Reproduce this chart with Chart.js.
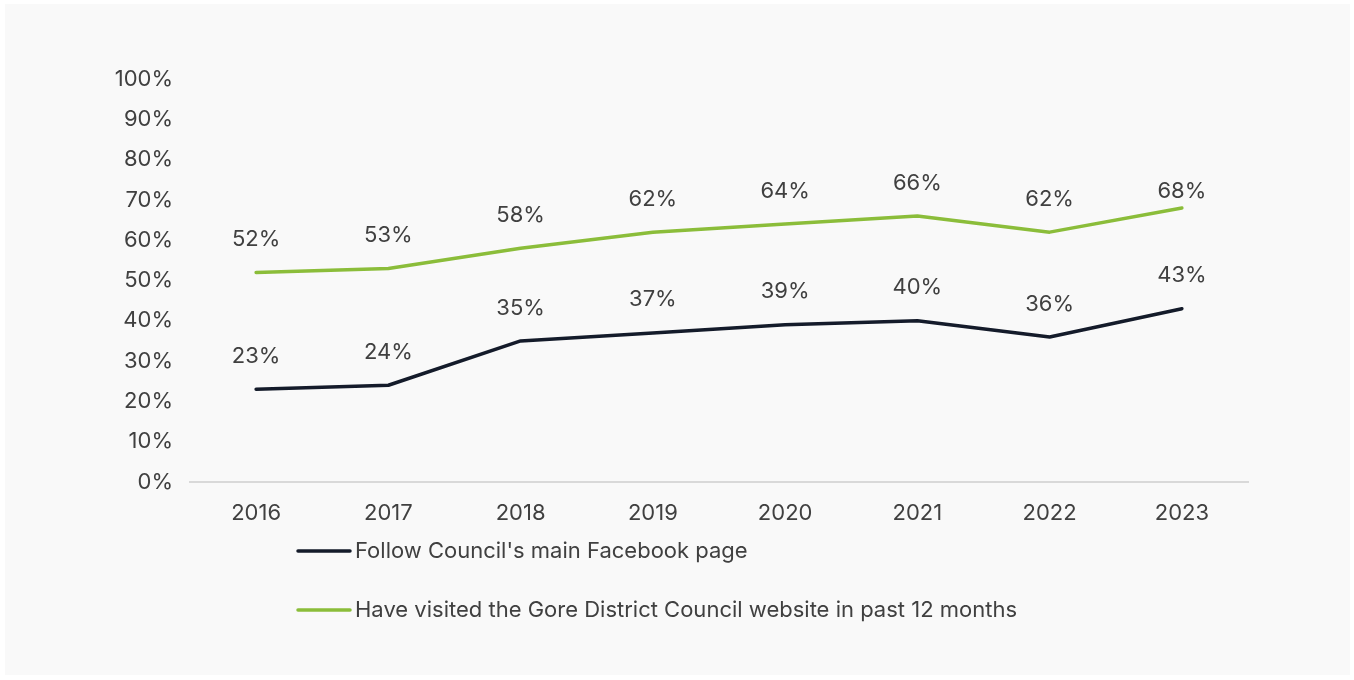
<!DOCTYPE html>
<html>
<head>
<meta charset="utf-8">
<script src="https://cdn.jsdelivr.net/npm/chart.js@4/dist/chart.umd.min.js"></script>
<style>
  html, body { margin: 0; padding: 0; background: #ffffff; }
  #wrap { position: relative; width: 1354px; height: 680px; }
</style>
</head>
<body>
<div id="wrap"><canvas id="c" width="1354" height="680"></canvas></div>
<script>
const years = ['2016', '2017', '2018', '2019', '2020', '2021', '2022', '2023'];
const facebookFollow = [23, 24, 35, 37, 39, 40, 36, 43];
const websiteVisited = [52, 53, 58, 62, 64, 66, 62, 68];
const seriesNames = [
  "Follow Council's main Facebook page",
  'Have visited the Gore District Council website in past 12 months'
];
const seriesColors = ['#141b2a', '#8bbd3a'];

const FONT = 'Inter, "Noto Sans", sans-serif';
const FONT_SIZE = 22;
const TEXT = '#404040';

// Light panel behind the whole chart
const panel = {
  id: 'panel',
  beforeDraw(chart) {
    const ctx = chart.ctx;
    ctx.save();
    ctx.fillStyle = '#f9f9f9';
    ctx.fillRect(5, 4, 1345, 671);
    ctx.restore();
  }
};

// Percent labels above every point; the last website label sits a little lower
const pointLabels = {
  id: 'pointLabels',
  afterDatasetsDraw(chart) {
    const ctx = chart.ctx;
    ctx.save();
    ctx.font = FONT_SIZE + 'px ' + FONT;
    ctx.fillStyle = TEXT;
    ctx.textAlign = 'center';
    ctx.textBaseline = 'middle';
    chart.data.datasets.forEach((ds, i) => {
      const pts = chart.getDatasetMeta(i).data;
      pts.forEach((pt, j) => {
        const lift = (i === 1 && j === pts.length - 1) ? 17 : 33;
        ctx.fillText(ds.data[j] + '%', pt.x, pt.y - lift);
      });
    });
    ctx.restore();
  }
};

// Stacked legend under the axis
const stackedLegend = {
  id: 'stackedLegend',
  afterDraw(chart) {
    const ctx = chart.ctx;
    ctx.save();
    ctx.font = FONT_SIZE + 'px ' + FONT;
    ctx.textBaseline = 'middle';
    ctx.textAlign = 'left';
    chart.data.datasets.forEach((ds, i) => {
      const y = 551 + i * 59;
      ctx.strokeStyle = ds.borderColor;
      ctx.lineWidth = 3.5;
      ctx.lineCap = 'round';
      ctx.beginPath();
      ctx.moveTo(298, y);
      ctx.lineTo(350, y);
      ctx.stroke();
      ctx.fillStyle = TEXT;
      ctx.fillText(ds.label, 355, y);
    });
    ctx.restore();
  }
};

new Chart(document.getElementById('c'), {
  type: 'line',
  data: {
    labels: years,
    datasets: [
      { label: seriesNames[0], data: facebookFollow, borderColor: seriesColors[0], backgroundColor: seriesColors[0] },
      { label: seriesNames[1], data: websiteVisited, borderColor: seriesColors[1], backgroundColor: seriesColors[1] }
    ]
  },
  options: {
    responsive: false,
    animation: false,
    layout: { padding: { left: 0, top: 79, right: 106, bottom: 0 } },
    elements: {
      line: { borderWidth: 3.5, tension: 0, borderCapStyle: 'round', borderJoinStyle: 'round' },
      point: { radius: 0, hoverRadius: 0 }
    },
    plugins: {
      legend: { display: false },
      tooltip: { enabled: false }
    },
    scales: {
      x: {
        offset: true,
        grid: { display: false, drawTicks: false },
        border: { display: true, color: '#d9d9d9', width: 2 },
        ticks: { color: TEXT, font: { family: FONT, size: FONT_SIZE }, padding: 18, maxRotation: 0 },
        afterFit(scale) { scale.height = 198; }
      },
      y: {
        min: 0,
        max: 100,
        grid: { display: false, drawTicks: false },
        border: { display: false },
        ticks: {
          stepSize: 10,
          color: TEXT,
          font: { family: FONT, size: FONT_SIZE },
          padding: 17,
          callback: v => v + '%'
        },
        afterFit(scale) { scale.width = 190; }
      }
    }
  },
  plugins: [panel, pointLabels, stackedLegend]
});
</script>
</body>
</html>
